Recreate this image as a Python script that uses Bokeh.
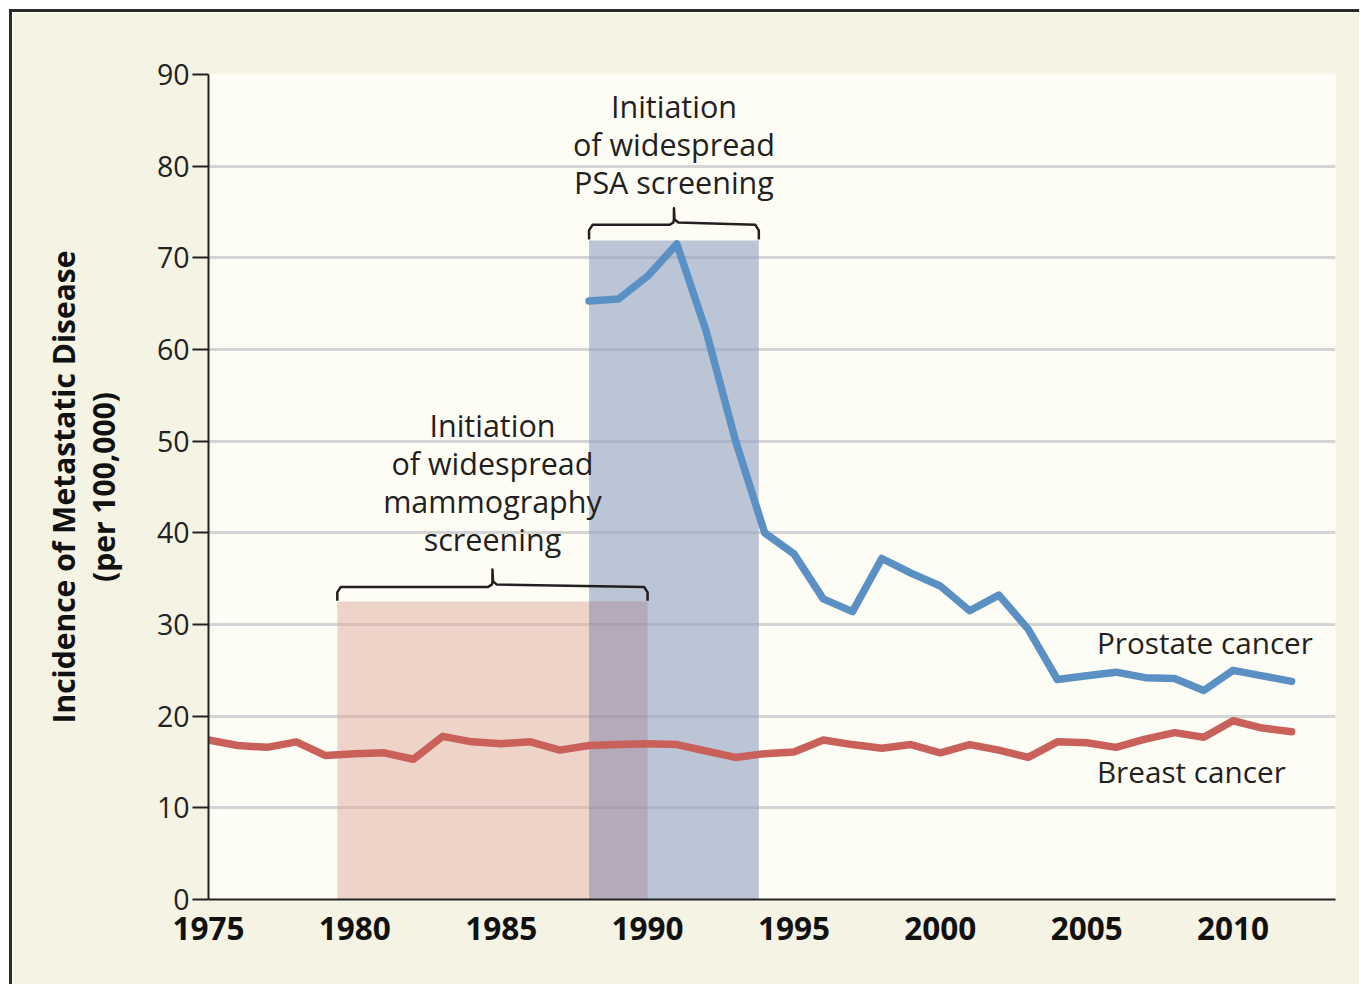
from bokeh.plotting import figure
from bokeh.models import FixedTicker, Range1d
from bokeh.core.properties import value
from bokeh.embed import file_html
from bokeh.resources import INLINE

# ---- data ----
breast_years = list(range(1975, 2013))
breast_rate = [17.4, 16.8, 16.6, 17.2, 15.7, 15.9, 16.0, 15.3, 17.8, 17.2,
               17.0, 17.2, 16.3, 16.8, 16.9, 17.0, 16.9, 16.2, 15.5, 15.9,
               16.1, 17.4, 16.9, 16.5, 16.9, 16.0, 16.9, 16.3, 15.5, 17.2,
               17.1, 16.6, 17.5, 18.2, 17.7, 19.5, 18.7, 18.3]
prostate_years = list(range(1988, 2013))
prostate_rate = [65.3, 65.5, 68.0, 71.5, 62.0, 50.1, 40.0, 37.7, 32.8, 31.4,
                 37.2, 35.6, 34.2, 31.5, 33.2, 29.5, 24.0, 24.4, 24.8, 24.2,
                 24.1, 22.8, 25.0, 24.4, 23.8]
x_ticks = [1975, 1980, 1985, 1990, 1995, 2000, 2005, 2010]
y_ticks = [0, 10, 20, 30, 40, 50, 60, 70, 80, 90]

# screening periods (start, end, band height)
mammo_period = (1979.4, 1990.0, 32.5)
psa_period = (1988.0, 1993.8, 71.9)

FONT = value("Open Sans")
INK = "#231f20"

p = figure(width=1350, height=975, x_range=Range1d(1975, 2013.5), y_range=Range1d(0, 90),
           output_backend="svg", toolbar_location=None,
           min_border_left=196, min_border_top=62, min_border_right=27, min_border_bottom=88)
p.styles = {"border-top": "3px solid #2b2b2b", "border-left": "3px solid #2b2b2b",
            "margin-top": "9px", "margin-left": "9px"}
p.background_fill_color = "#fdfdf5"
p.border_fill_color = "#f4f3e4"
p.outline_line_color = None

# grid
p.xgrid.visible = False
p.ygrid.ticker = FixedTicker(ticks=y_ticks[1:-1])
p.ygrid.grid_line_color = "#d4d4d4"
p.ygrid.grid_line_width = 3

# bands
m0, m1, mh = mammo_period
s0, s1, sh = psa_period
p.quad(left=[s0], right=[s1], bottom=[0], top=[sh], fill_color="#91a0c1", fill_alpha=0.6, line_color=None)
p.quad(left=[m0], right=[s0], bottom=[0], top=[mh], fill_color="#dfa99d", fill_alpha=0.5, line_color=None)
p.quad(left=[s0], right=[m1], bottom=[0], top=[mh], fill_color="#aa828e", fill_alpha=0.4, line_color=None)

# brackets
def bracket(x0, x1, yb, h, n):
    xm = (x0 + x1) / 2
    xs = [x0, x0, x0 + 0.12, xm - 0.15, xm - 0.02, xm, xm, xm + 0.02, xm + 0.15, x1 - 0.12, x1, x1]
    ys = [yb, h - 0.6, h, h, h + 0.25, h + 0.6, n, h + 0.6, h + 0.25, h, h - 0.6, yb]
    p.line(xs, ys, line_color=INK, line_width=2.5, line_join="round")

bracket(m0, m1, mh + 0.1, 34.1, 36.0)
bracket(s0, s1, sh + 0.1, 73.6, 75.4)

# lines
p.line(breast_years, breast_rate, line_color="#c9605a", line_width=7.5, line_join="round", line_cap="round")
p.line(prostate_years, prostate_rate, line_color="#5b90c5", line_width=7.5, line_join="round", line_cap="round")

# annotations
psa_x = (s0 + s1) / 2
mam_x = (m0 + m1) / 2
p.text(x=[psa_x] * 3, y=[86.6, 82.4, 78.3], text=["Initiation", "of widespread", "PSA screening"],
       text_font=FONT, text_font_size="30.5px", text_align="center", text_baseline="middle", text_color=INK)
p.text(x=[mam_x] * 4, y=[51.8, 47.6, 43.5, 39.3],
       text=["Initiation", "of widespread", "mammography", "screening"],
       text_font=FONT, text_font_size="30.5px", text_align="center", text_baseline="middle", text_color=INK)
p.text(x=[2005.35, 2005.35], y=[28.0, 14.0], text=["Prostate cancer", "Breast cancer"],
       text_font=FONT, text_font_size="29.7px", text_align="left", text_baseline="middle", text_color=INK)

# axes
xa = p.xaxis[0]
xa.ticker = FixedTicker(ticks=x_ticks)
xa.major_tick_line_color = None
xa.minor_tick_line_color = None
xa.axis_line_width = 2
xa.axis_line_color = "#222222"
xa.major_label_text_font = "Open Sans"
xa.major_label_text_font_style = "bold"
xa.major_label_text_font_size = "31.5px"
xa.major_label_text_color = "#111111"
xa.major_label_standoff = 11

ya = p.yaxis[0]
ya.ticker = FixedTicker(ticks=y_ticks)
ya.minor_tick_line_color = None
ya.major_tick_in = 0
ya.major_tick_out = 16
ya.major_tick_line_width = 2
ya.major_tick_line_color = "#222222"
ya.axis_line_width = 2
ya.axis_line_color = "#222222"
ya.major_label_text_font = "Open Sans"
ya.major_label_text_font_size = "28.5px"
ya.major_label_text_color = "#222222"
ya.major_label_standoff = 3
ya.axis_label = "Incidence of Metastatic Disease\n(per 100,000)"
ya.axis_label_text_font = "Open Sans"
ya.axis_label_text_font_style = "bold"
ya.axis_label_text_font_size = "30px"
ya.axis_label_text_line_height = 0.98
ya.axis_label_text_color = "#111111"
ya.axis_label_standoff = 30

open("out.html", "w").write(file_html(p, INLINE))
